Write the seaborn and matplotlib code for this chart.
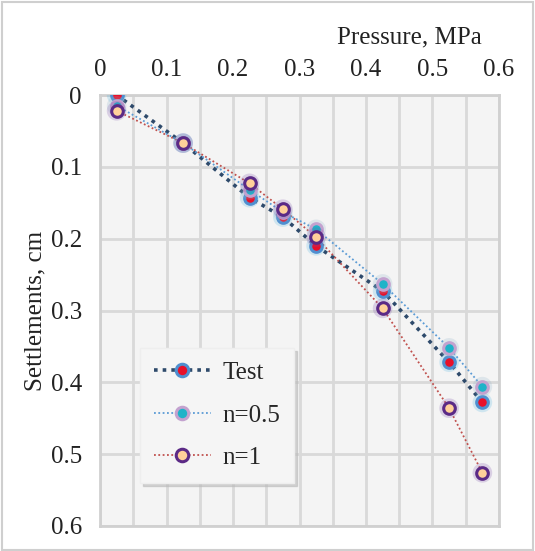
import matplotlib
matplotlib.use('Agg')
import matplotlib.pyplot as plt
import numpy as np
import pandas as pd
import seaborn as sns
from matplotlib.lines import Line2D
from matplotlib.patches import Rectangle

sns.set_style('whitegrid')
plt.rcParams['font.family'] = ['Liberation Serif', 'DejaVu Serif']

# pressure, MPa
pressure = [0.025, 0.125, 0.225, 0.275, 0.325, 0.425, 0.525, 0.575]
# settlements, cm
s_test = [0.000, 0.067, 0.143, 0.170, 0.210, 0.273, 0.372, 0.428]
s_n05 = [0.015, 0.067, 0.132, 0.163, 0.187, 0.263, 0.352, 0.406]
s_n1 = [0.022, 0.067, 0.123, 0.159, 0.198, 0.297, 0.436, 0.526]

labels = ['Test', 'n=0.5', 'n=1']
series = [s_test, s_n05, s_n1]
line_col = ['#2E4A6B', '#5B9BD5', '#C0504D']
face_col = ['#E8102A', '#1FB3C8', '#FFD09A']
edge_col = ['#4F8FD0', '#C3A2CF', '#5B2A86']
glow_col = ['#4FB3E0', '#8FB0C8', '#7B4FA8']
line_w = [2.6, 1.3, 1.3]

fig = plt.figure(figsize=(5.35, 5.51), dpi=100)
fig.patch.set_facecolor('white')
ax = fig.add_axes([100/535, 1-526/551, 399/535, 431/551])
ax.set_facecolor('#F4F4F4')

for k, (s, lc, fc, ec, gc, lw) in enumerate(zip(series, line_col, face_col,
                                                 edge_col, glow_col, line_w)):
    df = pd.DataFrame({'p': pressure, 's': s})
    sns.lineplot(data=df, x='p', y='s', ax=ax, color=lc, lw=lw,
                 linestyle=(0, (1, 1.4)), sort=False, zorder=3)
    sns.scatterplot(data=df, x='p', y='s', ax=ax, s=200, color=gc,
                    alpha=0.22, edgecolor='none', zorder=4 + 2*k)
    sns.scatterplot(data=df, x='p', y='s', ax=ax, s=70, color=fc,
                    edgecolor=ec, linewidth=2.2, zorder=5 + 2*k)

ax.set_xlim(0, 0.6)
ax.set_ylim(0.6, 0)
ax.set_xticks(np.arange(0, 0.61, 0.1))
ax.set_xticks(np.arange(0.05, 0.6, 0.1), minor=True)
ax.set_xticklabels(['0', '0.1', '0.2', '0.3', '0.4', '0.5', '0.6'])
ax.set_yticks(np.arange(0, 0.61, 0.1))
ax.set_yticklabels(['0', '0.1', '0.2', '0.3', '0.4', '0.5', '0.6'])
ax.xaxis.tick_top()
ax.xaxis.set_label_position('top')
ax.grid(True, which='major', color='#D9D9D9', lw=2)
ax.grid(True, which='minor', axis='x', color='#D9D9D9', lw=2)
ax.tick_params(axis='x', which='both', length=0, labelsize=18,
               colors='#222222', pad=10)
ax.tick_params(axis='y', which='both', length=0, labelsize=18,
               colors='#222222', pad=13)
for sp in ax.spines.values():
    sp.set_color('#D0D0D0')
    sp.set_linewidth(2)

ax.set_xlabel('Pressure, MPa', fontsize=18, color='#222222')
ax.xaxis.set_label_coords(0.775, 1.12)
ax.set_ylabel('Settlements, cm', fontsize=18, color='#222222')
ax.yaxis.set_label_coords(-0.135, 0.5)

handles = []
for lc, fc, ec, lw in zip(line_col, face_col, edge_col, line_w):
    handles.append(Line2D([], [], color=lc, lw=lw, linestyle=(0, (1, 1.4)),
                          marker='o', markersize=9, markerfacecolor=fc,
                          markeredgecolor=ec, markeredgewidth=2.2))
leg = ax.legend(handles, labels, loc='upper left',
                bbox_to_anchor=(0.1, 0.413), fontsize=18, frameon=True,
                shadow={'color': '#BBBBBB', 'alpha': 0.6}, fancybox=False,
                labelspacing=0.8, handlelength=2.3, handletextpad=0.45,
                borderpad=0.55, borderaxespad=0)
leg.get_frame().set_facecolor('#F5F5F5')
leg.get_frame().set_edgecolor('#EEEEEE')

fig.patches.append(Rectangle((0.004, 0.002), 0.992, 0.994,
                             transform=fig.transFigure, fill=False,
                             edgecolor='#CFCFCF', lw=1.5))

fig.savefig('out.png', dpi=100)
